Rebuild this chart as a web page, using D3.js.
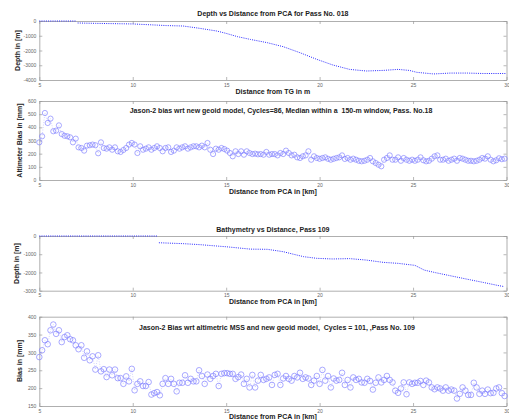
<!DOCTYPE html>
<html>
<head>
<meta charset="utf-8">
<script src="https://cdn.jsdelivr.net/npm/d3@7"></script>
<style>
  body { margin: 0; background: #fff; }
  svg { font-family: "Liberation Sans", Arial, sans-serif; }
</style>
</head>
<body>
<div id="chart"></div>
<script>
// distance ticks shared by all four panels
let distTicks = [5, 10, 15, 20, 25, 30];

// Pass 018 depth profile (null = gap in the line)
let p018Dist  = [5, 7, null, 7.05, 8, 9, 10, 11, 11.8, 12.7, 13.6, 14.5, 15, 15.6, 16.3, 17.2, 18.05, 18.95, 19.85, 20.7, 21.6, 22.5, 23.4, 24.2, 24.8, 25.2, 26.1, 27, 27.9, 28.75, 30];
let p018Depth = [0, 0, null, -135, -160, -180, -200, -260, -310, -340, -500, -680, -840, -1060, -1250, -1470, -1740, -2150, -2600, -2980, -3280, -3390, -3350, -3280, -3350, -3480, -3590, -3530, -3530, -3560, -3560];

// Pass 109 bathymetry
let p109Dist  = [5, 11.3, null, 11.4, 12.7, 13.6, 14.5, 15, 15.7, 16.3, 17.2, 18.05, 18.6, 19.15, 19.85, 20.7, 21.6, 22.5, 23.4, 24.2, 25.1, 25.6, 26.2, 26.9, 27.85, 28.75, 29.6, 29.85];
let p109Depth = [0, 0, null, -370, -420, -475, -550, -590, -660, -720, -730, -860, -1000, -1135, -1225, -1260, -1240, -1320, -1445, -1500, -1610, -1870, -2010, -2160, -2360, -2545, -2725, -2770];

// bias samples every 150 m from 5 km
let biasStep = 0.15;
let bias18 = [
  286,332,509,433,466,370,375,415,349,336,
  332,324,286,314,248,243,223,261,264,269,
  264,203,286,243,238,248,230,248,218,213,
  228,243,269,281,269,205,256,230,238,248,
  230,243,256,243,218,243,248,213,223,248,
  238,248,256,238,248,256,
  256,248,261,248,281,230,197,238,230,243,
  235,223,205,180,218,197,218,192,218,205,
  197,200,195,197,192,213,192,197,197,187,205,197,
  223,205,187,192,172,167,180,187,218,154,
  180,167,161,167,172,161,154,161,167,172,
  187,160,167,154,
  162,154,146,142,146,154,167,142,129,116,
  104,154,167,187,154,154,172,146,167,154,
  146,154,146,154,172,150,142,146,162,180,187,
  154,154,162,146,154,162,146,167,162,154,
  146,146,142,146,154,167,162,180,154,142,
  150,165,158,162
];
let bias109 = [
  287,306,334,323,362,378,352,362,329,343,
  348,337,334,320,309,320,285,303,278,289,
  252,292,247,253,231,252,236,252,228,228,
  212,233,219,254,194,212,219,206,206,217,
  182,186,189,180,212,228,212,226,212,191,
  215,215,236,215,226,219,219,250,234,212,
  238,226,234,240,206,240,242,242,240,240,
  226,231,238,212,226,
  202,237,202,221,237,223,226,230,209,237,
  240,209,227,234,226,221,234,230,243,226,
  230,227,209,221,234,212,251,221,234,202,
  227,221,223,243,209,223,202,230,223,226,
  216,215,226,220,196,215,230,216,223,234,
  223,216,193,187,199,216,183,216,212,215,
  215,220,209,221,216,202,197,202,199,193,
  202,193,196,193,171,184,202,193,181,181,
  215,202,184,193,184,196,186,187,199,202,
  186,178
];

let width = 509, height = 420;
let svg = d3.select("#chart").append("svg")
    .attr("width", width)
    .attr("height", height);

let x = d3.scaleLinear().domain([5, 30]).range([39.3, 506.5]);
let fmt = d => String(d);

let drawFrame = (top, bottom, y, yTicks) => {
  let g = svg.append("g");
  let tickSz = -3;
  let axB = g.append("g").attr("transform", `translate(0,${bottom})`)
      .call(d3.axisBottom(x).tickValues(distTicks).tickFormat(fmt).tickSizeInner(tickSz).tickSizeOuter(0).tickPadding(3));
  let axT = g.append("g").attr("transform", `translate(0,${top})`)
      .call(d3.axisTop(x).tickValues(distTicks).tickFormat("").tickSizeInner(tickSz).tickSizeOuter(0));
  let axL = g.append("g").attr("transform", `translate(${x.range()[0]},0)`)
      .call(d3.axisLeft(y).tickValues(yTicks).tickFormat(fmt).tickSizeInner(tickSz).tickSizeOuter(0).tickPadding(3));
  let axR = g.append("g").attr("transform", `translate(${x.range()[1]},0)`)
      .call(d3.axisRight(y).tickValues(yTicks).tickFormat("").tickSizeInner(tickSz).tickSizeOuter(0));
  [axB, axT, axL, axR].forEach(a => {
    a.select(".domain").attr("stroke", "#9a9a9a").attr("stroke-width", 0.8);
    a.selectAll(".tick line").attr("stroke", "#9a9a9a").attr("stroke-width", 0.7);
    a.selectAll(".tick text").attr("fill", "#666").attr("font-size", 5);
  });
  return g;
};

let addText = (txt, px, py, size, rotate) => {
  let t = svg.append("text")
      .attr("text-anchor", "middle")
      .attr("font-size", size)
      .attr("font-weight", "bold")
      .attr("fill", "#222")
      .text(txt);
  if (rotate) t.attr("transform", `translate(${px},${py}) rotate(-90)`);
  else t.attr("x", px).attr("y", py);
  return t;
};

let depthLine = (dist, depth, y) => {
  let pts = dist.map((d, i) => [d, depth[i]]);
  svg.append("path")
    .datum(pts)
    .attr("d", d3.line().defined(p => p[0] != null).x(p => x(p[0])).y(p => y(p[1])))
    .attr("fill", "none")
    .attr("stroke", "#2a2aff")
    .attr("stroke-width", 1)
    .attr("stroke-dasharray", "1,1.2");
};

let biasMarks = (vals, y, r) => {
  let pts = vals.map((v, i) => [5 + i * biasStep, v]);
  svg.append("path")
    .datum(pts)
    .attr("d", d3.line().x(p => x(p[0])).y(p => y(p[1])))
    .attr("fill", "none")
    .attr("stroke", "#b4b4ff")
    .attr("stroke-width", 0.6)
    .attr("stroke-dasharray", "1,1.5");
  svg.append("g").selectAll("circle")
    .data(pts)
    .enter()
    .append("circle")
    .attr("cx", p => x(p[0]))
    .attr("cy", p => y(p[1]))
    .attr("r", r)
    .attr("fill", "none")
    .attr("stroke", "#7c7cff")
    .attr("stroke-width", 0.65);
};

let cx = (x.range()[0] + x.range()[1]) / 2;

// panel 1
let y1 = d3.scaleLinear().domain([-4000, 0]).range([80, 21]);
drawFrame(21, 80, y1, [0, -1000, -2000, -3000, -4000]);
depthLine(p018Dist, p018Depth, y1);
addText("Depth vs Distance from PCA for Pass No. 018", cx, 16, 7);
addText("Distance from TG in m", cx, 94, 7);
addText("Depth in [m]", 20, 50.5, 7, true);

// panel 2
let y2 = d3.scaleLinear().domain([0, 600]).range([180, 101]);
drawFrame(101, 180, y2, [0, 100, 200, 300, 400, 500, 600]);
biasMarks(bias18, y2, 2.6);
addText("Jason-2 bias wrt new geoid model, Cycles=86, Median within a \u00a0150-m window, Pass. No.18", 281, 112.5, 7);
addText("Distance from PCA in [km]", cx, 194, 7);
addText("Altimeter Bias in [mm]", 22, 140.5, 7, true);

// panel 3
let y3 = d3.scaleLinear().domain([-3000, 0]).range([290.7, 236]);
drawFrame(236, 290.7, y3, [0, -1000, -2000, -3000]);
depthLine(p109Dist, p109Depth, y3);
addText("Bathymetry vs Distance, Pass 109", cx, 232, 7);
addText("Distance from PCA in [km]", cx, 304, 7);
addText("Depth in [m]", 19, 263.5, 7, true);

// panel 4
let y4 = d3.scaleLinear().domain([150, 400]).range([406, 316.7]);
drawFrame(316.7, 406, y4, [150, 200, 250, 300, 350, 400]);
biasMarks(bias109, y4, 2.8);
addText("Jason-2 Bias wrt altimetric MSS and new geoid model, \u00a0Cycles = 101, ,Pass No. 109", 277, 330, 7);
addText("Distance from PCA in [km]", cx, 419, 7);
addText("Bias in [mm]", 22, 361, 7, true);
</script>
</body>
</html>
